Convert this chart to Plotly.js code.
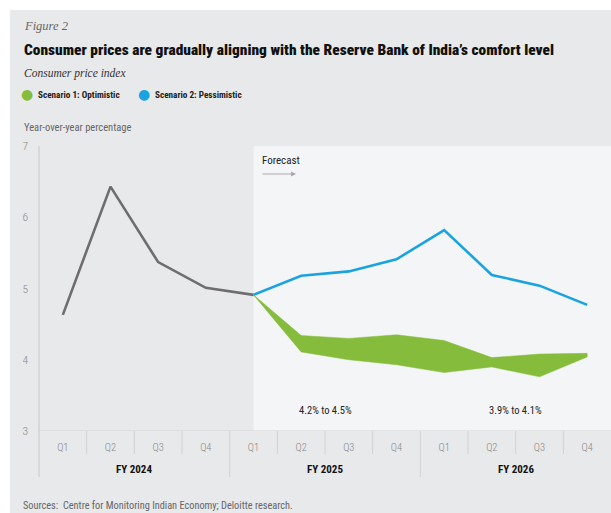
<!DOCTYPE html>
<html><head><meta charset="utf-8">
<script src="https://cdn.plot.ly/plotly-3.0.1.min.js"></script>
<style>html,body{margin:0;padding:0;background:#fff}#chart{width:611px;height:513px}</style>
</head><body><div id="chart"></div>
<script>
// ---- data ----
const quarters = ["Q1","Q2","Q3","Q4","Q1","Q2","Q3","Q4","Q1","Q2","Q3","Q4"];
const fiscalYears = ["FY 2024","FY 2025","FY 2026"];
const actualValues = [4.63, 6.43, 5.37, 5.01, 4.91];
const pessimisticValues = [4.91, 5.18, 5.24, 5.41, 5.82, 5.19, 5.04, 4.77];
const optimisticUpper = [4.91, 4.34, 4.30, 4.35, 4.27, 4.03, 4.08, 4.09];
const optimisticLower = [4.91, 4.11, 4.00, 3.93, 3.82, 3.90, 3.76, 4.04];
const rangeLabels = ["4.2% to 4.5%", "3.9% to 4.1%"];

// ---- geometry helpers (plot area: x 39..611, y 146..431) ----
const L = 39, R = 611, T = 146, B = 431;
const px = x => (x - L) / (R - L);
const py = y => (B - y) / (B - T);

const idx = quarters.map((_, i) => i);
const actX = actualValues.map((_, i) => i);
const fcX = pessimisticValues.map((_, i) => i + 4);

const fontMain = "'Roboto Condensed', 'DejaVu Sans Condensed', sans-serif";
const fontSerif = "'Liberation Serif', 'DejaVu Serif', serif";
const gray = '#6e6e70', blue = '#1aa3e0', green = '#86bc3c';

const traces = [
  { x: fcX.concat(fcX.slice().reverse()), y: optimisticUpper.concat(optimisticLower.slice().reverse()),
    type: 'scatter', mode: 'lines', fill: 'toself', fillcolor: green,
    line: { color: green, width: 0.5 }, hoverinfo: 'skip', showlegend: false },
  { x: actX, y: actualValues, type: 'scatter', mode: 'lines',
    line: { color: gray, width: 2.6 }, showlegend: false },
  { x: fcX, y: pessimisticValues, type: 'scatter', mode: 'lines',
    line: { color: blue, width: 2.6 }, showlegend: false }
];

const shapes = [
  { type: 'rect', xref: 'paper', yref: 'paper', x0: px(10), x1: px(620), y0: py(520), y1: py(10),
    fillcolor: '#e8e9eb', line: { width: 0 }, layer: 'below' },
  { type: 'rect', xref: 'x', yref: 'y', x0: 4, x1: 11.5, y0: 3, y1: 7,
    fillcolor: '#f4f5f7', line: { width: 0 }, layer: 'below' },
  { type: 'line', xref: 'paper', yref: 'y', x0: 0, x1: 1, y0: 3, y1: 3,
    line: { color: '#d2d2d4', width: 1 } },
  { type: 'line', xref: 'paper', yref: 'paper', x0: 0, x1: 0, y0: py(477), y1: 1,
    line: { color: '#c8c8ca', width: 1 } }
];
for (let i = 0; i < quarters.length - 1; i++) {
  const b = i + 0.5;
  const isFY = (i === 3 || i === 7);
  shapes.push({ type: 'line', xref: 'x', yref: 'paper', x0: b, x1: b,
    y0: py(isFY ? 477 : 454), y1: 0, line: { color: '#d2d2d4', width: 1 } });
}

const annotations = [
  { text: '<i>Figure 2</i>', xref: 'paper', yref: 'paper', x: px(22), y: py(26), xanchor: 'left', yanchor: 'middle',
    showarrow: false, font: { family: fontSerif, size: 12.5, color: '#666' } },
  { text: 'Consumer prices are gradually aligning with the Reserve Bank of India’s comfort level',
    xref: 'paper', yref: 'paper', x: px(22), y: py(50), xanchor: 'left', yanchor: 'middle',
    showarrow: false, font: { family: fontMain, size: 15.4, color: '#111', weight: 900 } },
  { text: '<i>Consumer price index</i>', xref: 'paper', yref: 'paper', x: px(22), y: py(73), xanchor: 'left', yanchor: 'middle',
    showarrow: false, font: { family: fontSerif, size: 11.5, color: '#333' } },
  { text: '●', xref: 'paper', yref: 'paper', x: px(27), y: py(94), xanchor: 'center', yanchor: 'middle',
    showarrow: false, font: { family: 'DejaVu Sans', size: 14, color: green } },
  { text: '<b>Scenario 1: Optimistic</b>', xref: 'paper', yref: 'paper', x: px(36), y: py(94), xanchor: 'left', yanchor: 'middle',
    showarrow: false, font: { family: fontMain, size: 9.2, color: '#222' } },
  { text: '●', xref: 'paper', yref: 'paper', x: px(144), y: py(94), xanchor: 'center', yanchor: 'middle',
    showarrow: false, font: { family: 'DejaVu Sans', size: 14, color: blue } },
  { text: '<b>Scenario 2: Pessimistic</b>', xref: 'paper', yref: 'paper', x: px(153), y: py(94), xanchor: 'left', yanchor: 'middle',
    showarrow: false, font: { family: fontMain, size: 9.2, color: '#222' } },
  { text: 'Year-over-year percentage', xref: 'paper', yref: 'paper', x: px(22), y: py(127), xanchor: 'left', yanchor: 'middle',
    showarrow: false, font: { family: fontMain, size: 10.5, color: '#666' } },
  { text: 'Forecast', xref: 'paper', yref: 'paper', x: px(260), y: py(160), xanchor: 'left', yanchor: 'middle',
    showarrow: false, font: { family: fontMain, size: 11, color: '#222' } },
  { text: '', xref: 'paper', yref: 'paper', x: px(296), y: py(174), axref: 'pixel', ayref: 'pixel', ax: -35, ay: 0,
    showarrow: true, arrowhead: 2, arrowsize: 1, arrowwidth: 1, arrowcolor: '#aaa' },
  { text: rangeLabels[0], xref: 'x', yref: 'paper', x: 5.5, y: py(410), xanchor: 'center', yanchor: 'middle',
    showarrow: false, font: { family: fontMain, size: 10.5, color: '#222' } },
  { text: rangeLabels[1], xref: 'x', yref: 'paper', x: 9.5, y: py(410), xanchor: 'center', yanchor: 'middle',
    showarrow: false, font: { family: fontMain, size: 10.5, color: '#222' } },
  { text: 'Sources:  Centre for Monitoring Indian Economy; Deloitte research.', xref: 'paper', yref: 'paper',
    x: px(21), y: py(505), xanchor: 'left', yanchor: 'middle',
    showarrow: false, font: { family: fontMain, size: 10.3, color: '#666' } }
];
fiscalYears.forEach((fy, k) => {
  annotations.push({ text: '<b>' + fy + '</b>', xref: 'x', yref: 'paper', x: 4 * k + 1.5, y: py(469),
    xanchor: 'center', yanchor: 'middle', showarrow: false, font: { family: fontMain, size: 11, color: '#111' } });
});

const layout = {
  width: 611, height: 513,
  margin: { l: L, r: 611 - R, t: T, b: 513 - B, pad: 0 },
  paper_bgcolor: '#ffffff', plot_bgcolor: 'rgba(0,0,0,0)',
  showlegend: false,
  xaxis: { range: [-0.5, 11.5], tickvals: idx, ticktext: quarters, showgrid: false, zeroline: false,
    showline: false, ticks: '', ticklabelstandoff: 8,
    tickfont: { family: fontMain, size: 10.5, color: '#888', weight: 300 }, fixedrange: true },
  yaxis: { range: [3, 7], tickvals: [3, 4, 5, 6, 7], showgrid: false, zeroline: false, showline: false,
    ticks: '', ticklabelstandoff: 10, tickfont: { family: fontMain, size: 11.5, color: '#888', weight: 300 }, fixedrange: true },
  shapes: shapes,
  annotations: annotations
};

Plotly.newPlot('chart', traces, layout, { displayModeBar: false, staticPlot: true });
</script>
</body></html>
